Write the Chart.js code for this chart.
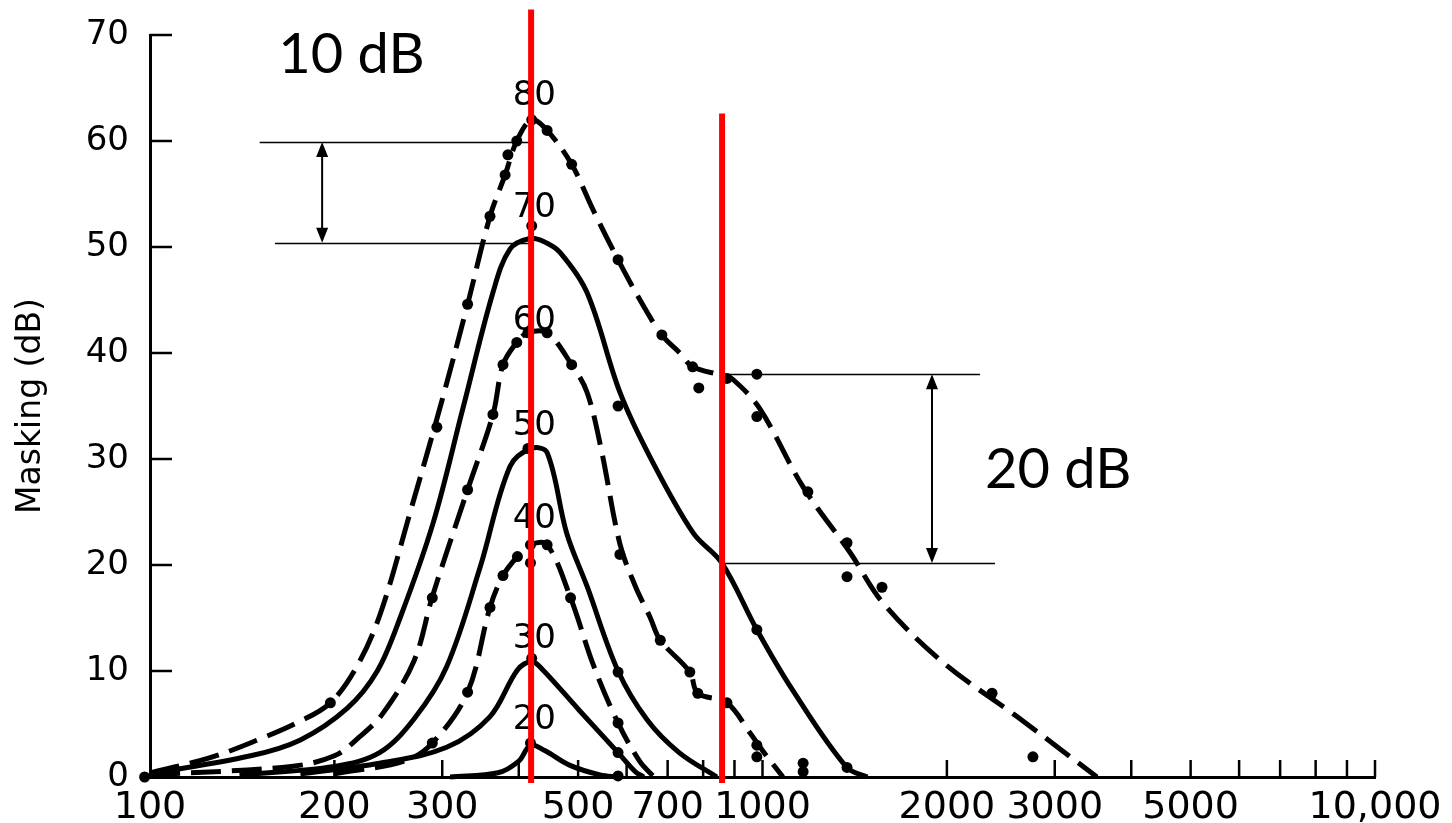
<!DOCTYPE html>
<html>
<head>
<meta charset="UTF-8">
<title>Masking</title>
<script src="https://cdn.jsdelivr.net/npm/chart.js"></script>
<style>
  html, body { margin: 0; padding: 0; background: #fff; }
  #wrap { width: 1452px; height: 823px; }
</style>
</head>
<body>
<div id="wrap"><canvas id="chart" width="1452" height="823"></canvas></div>
<script>
// masking curves: frequency (Hz) -> masking (dB), one per masker level
const curve80F = [100, 125, 150, 175, 197, 218, 238, 266, 298, 330, 359, 380, 397, 420, 445, 488, 529, 581, 631, 685, 733, 769, 858, 895, 991, 1164, 1389, 1574, 1972, 2603, 3516];
const curve80M = [0.4, 1.8, 3.5, 5.2, 7, 10.5, 15.5, 25, 35, 44.6, 52.9, 56.8, 60, 62, 61, 57.8, 53.5, 48.8, 45, 41.7, 40, 38.7, 37.9, 37.5, 34.7, 27.4, 21.2, 16.4, 10.8, 5.7, 0];
const curve70F = [100, 146, 176, 210, 235, 256, 290, 324, 363, 387, 417, 440, 467, 517, 585, 655, 771, 858, 979, 1120, 1373, 1483];
const curve70M = [0.3, 2, 3.5, 6.5, 10, 15, 24, 34.7, 45.7, 49.8, 50.8, 50.5, 49.5, 45.7, 36.3, 30.2, 23, 20.2, 13.9, 8.2, 0.9, 0];
const curve60F = [100, 170, 200, 220, 240, 270, 289, 330, 363, 377, 397, 414, 445, 488, 517, 545, 585, 620, 655, 681, 761, 784, 875, 953, 1000, 1080];
const curve60M = [0.2, 1, 2, 3.8, 6, 11, 17, 27.1, 34.2, 38.9, 41, 41.9, 41.9, 38.9, 36.3, 31, 22, 18, 15.1, 12.9, 9.9, 7.9, 7, 4.2, 2.5, 0];
const curve50F = [140, 200, 237, 270, 305, 346, 387, 420, 445, 479, 517, 581, 648, 731, 842];
const curve50M = [0.2, 1, 2.3, 5.5, 10.4, 19.8, 29.3, 31, 30.6, 23, 18, 10, 5.4, 2.3, 0];
const curve40F = [200, 260, 289, 330, 359, 377, 398, 418, 445, 486, 530, 581, 630, 665];
const curve40M = [0.3, 1.5, 3.2, 8, 16, 19, 20.8, 21.9, 21.9, 16.9, 10.5, 5.1, 1.5, 0];
const curve30F = [176, 237, 305, 359, 398, 420, 438, 502, 581, 620, 640];
const curve30M = [0.3, 1.3, 2.8, 5.7, 10.1, 10.9, 10.1, 6.3, 2.3, 0.5, 0];
const curve20F = [309, 370, 400, 418, 441, 485, 543, 581];
const curve20M = [0, 0.4, 1.5, 3, 2.5, 1.1, 0.2, 0];

// measured points (dots)
const dots80F = [98, 98, 197, 294, 330, 359, 380, 384, 397, 420, 445, 488, 581, 685, 769, 787, 875, 979, 979, 1186, 1374, 1374, 1567, 2370, 2764];
const dots80M = [0.6, 0, 7, 33, 44.6, 52.9, 56.8, 58.7, 60, 62, 61, 57.8, 48.8, 41.7, 38.7, 36.7, 37.6, 38, 34, 26.9, 22.1, 18.9, 17.9, 7.9, 1.9];
const dots70F = [420, 581, 979, 1374];
const dots70M = [52, 35, 13.9, 0.9];
const dots60F = [289, 330, 363, 377, 397, 414, 445, 488, 585, 681, 761, 784, 875, 979, 979, 1165, 1165];
const dots60M = [16.9, 27.1, 34.2, 38.9, 41, 41.9, 41.9, 38.9, 21, 12.9, 9.9, 7.9, 7, 3, 1.9, 1.3, 0.5];
const dots50F = [414, 581];
const dots50M = [31, 9.9];
const dots40F = [289, 330, 359, 377, 398, 418, 445, 418, 486, 581];
const dots40M = [3.2, 8, 16, 19, 20.8, 21.9, 21.9, 20.2, 16.9, 5.1];
const dots30F = [420, 581];
const dots30M = [11.2, 2.3];
const dots20F = [418, 581];
const dots20M = [3.2, 0.1];

// axes
const xLabelValues = [100, 200, 300, 500, 700, 1000, 2000, 3000, 5000, 10000];
const xMarkValues = [200, 300, 400, 500, 600, 700, 800, 900, 1000, 2000, 3000, 4000, 5000, 6000, 7000, 8000, 9000, 10000];
const yTickValues = [0, 10, 20, 30, 40, 50, 60, 70];

// annotations
const levelLabels = ['80', '70', '60', '50', '40', '30', '20'];
const levelLabelY = [64.2, 53.7, 43.0, 33.1, 24.3, 13.0, 5.4];
const labelFreq = 424;
const redLineF = [419, 859];
const redLineTop = [72.4, 62.6];
const refLines = [ // [from Hz, to Hz, dB]
  [151, 419, 59.9],
  [160, 419, 50.4],
  [859, 2265, 38.0],
  [859, 2397, 20.2]
];
const arrows = [ // [Hz, top dB, bottom dB]
  [191, 59.9, 50.4],
  [1891, 38.0, 20.2]
];
const notes = [ // [text, Hz, baseline dB]
  ['10 dB', 162, 66.4],
  ['20 dB', 2308, 27.3]
];

const pts = (F, M) => F.map((f, i) => ({ x: f, y: M[i] }));

function curve(F, M, dashed) {
  return {
    data: pts(F, M), borderColor: '#000', borderWidth: 5,
    borderDash: dashed ? [30, 11] : [], pointRadius: 0,
    tension: 0.35, fill: false, clip: false
  };
}
function dots(F, M) {
  return {
    data: pts(F, M), showLine: false, pointRadius: 5.5,
    pointBackgroundColor: '#000', pointBorderWidth: 0, clip: false
  };
}

const extras = {
  id: 'extras',
  afterDatasetsDraw(chart) {
    const { ctx, scales: { x, y } } = chart;
    ctx.save();
    // inside tick marks
    ctx.strokeStyle = '#000';
    ctx.lineWidth = 2.5;
    yTickValues.forEach(v => {
      const py = y.getPixelForValue(v);
      ctx.beginPath(); ctx.moveTo(x.left, py); ctx.lineTo(x.left + 22, py); ctx.stroke();
    });
    xMarkValues.forEach(v => {
      const px = x.getPixelForValue(v);
      ctx.beginPath(); ctx.moveTo(px, y.bottom); ctx.lineTo(px, y.bottom - 17); ctx.stroke();
    });

    // level labels
    ctx.fillStyle = '#000';
    ctx.font = '34px "DejaVu Sans"';
    ctx.textAlign = 'center';
    ctx.textBaseline = 'middle';
    levelLabels.forEach((t, i) => {
      ctx.fillText(t, x.getPixelForValue(labelFreq), y.getPixelForValue(levelLabelY[i]));
    });

    // reference lines
    ctx.lineWidth = 1.5;
    refLines.forEach(([f1, f2, d]) => {
      const py = Math.round(y.getPixelForValue(d)) + 0.5;
      ctx.beginPath(); ctx.moveTo(x.getPixelForValue(f1), py); ctx.lineTo(x.getPixelForValue(f2), py); ctx.stroke();
    });
    arrows.forEach(([f, d1, d2]) => {
      const px = x.getPixelForValue(f);
      const y1 = y.getPixelForValue(d1), y2 = y.getPixelForValue(d2);
      ctx.lineWidth = 2;
      ctx.beginPath(); ctx.moveTo(px, y1 + 10); ctx.lineTo(px, y2 - 10); ctx.stroke();
      ctx.beginPath();
      ctx.moveTo(px, y1); ctx.lineTo(px - 6, y1 + 15); ctx.lineTo(px + 6, y1 + 15); ctx.closePath();
      ctx.moveTo(px, y2); ctx.lineTo(px - 6, y2 - 15); ctx.lineTo(px + 6, y2 - 15); ctx.closePath();
      ctx.fill();
    });

    ctx.font = '56px Lato';
    ctx.textAlign = 'left';
    ctx.textBaseline = 'alphabetic';
    notes.forEach(([t, f, d]) => ctx.fillText(t, x.getPixelForValue(f), y.getPixelForValue(d)));

    // red markers
    ctx.strokeStyle = '#ff0000';
    ctx.lineWidth = 6;
    redLineF.forEach((f, i) => {
      const px = x.getPixelForValue(f);
      ctx.beginPath(); ctx.moveTo(px, y.getPixelForValue(redLineTop[i])); ctx.lineTo(px, y.bottom + 6); ctx.stroke();
    });
    ctx.restore();
  }
};

new Chart(document.getElementById('chart'), {
  type: 'line',
  data: {
    datasets: [
      curve(curve80F, curve80M, true),
      curve(curve70F, curve70M, false),
      curve(curve60F, curve60M, true),
      curve(curve50F, curve50M, false),
      curve(curve40F, curve40M, true),
      curve(curve30F, curve30M, false),
      curve(curve20F, curve20M, false),
      dots(dots80F, dots80M),
      dots(dots70F, dots70M),
      dots(dots60F, dots60M),
      dots(dots50F, dots50M),
      dots(dots40F, dots40M),
      dots(dots30F, dots30M),
      dots(dots20F, dots20M)
    ]
  },
  options: {
    responsive: false,
    animation: false,
    devicePixelRatio: 1,
    layout: { padding: { left: 0, right: 77, top: 35, bottom: 0 } },
    plugins: { legend: { display: false }, tooltip: { enabled: false } },
    scales: {
      x: {
        type: 'logarithmic', min: 100, max: 10000,
        grid: { display: false },
        border: { display: true, color: '#000', width: 3 },
        afterFit: s => { s.height = 46; },
        afterBuildTicks: s => { s.ticks = xLabelValues.map(v => ({ value: v })); },
        ticks: {
          autoSkip: false, maxRotation: 0, minRotation: 0, padding: 0, color: '#000',
          font: { family: 'DejaVu Sans', size: 38 },
          callback: v => v === 10000 ? '10,000' : String(v)
        }
      },
      y: {
        min: 0, max: 70,
        grid: { display: false },
        border: { display: true, color: '#000', width: 3 },
        afterFit: s => { s.width = 150; },
        ticks: { stepSize: 10, padding: 13, color: '#000', font: { family: 'DejaVu Sans', size: 34 } },
        title: {
          display: true, text: 'Masking (dB)', color: '#000',
          font: { family: 'DejaVu Sans', size: 33 }, padding: { top: 12, bottom: 0 }
        }
      }
    }
  },
  plugins: [extras]
});
</script>
</body>
</html>
